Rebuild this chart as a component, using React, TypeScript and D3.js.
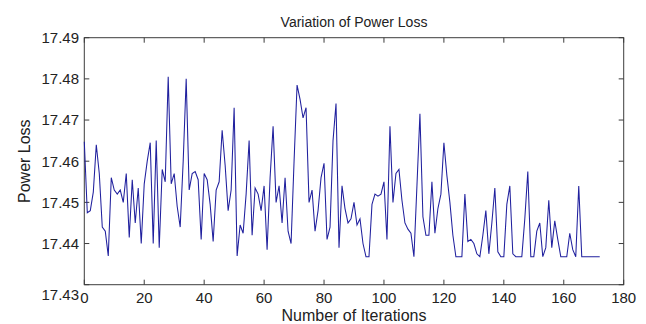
import React, { useEffect, useRef } from "react";
import * as d3 from "d3";

const powerLoss: number[] = [
  17.4647, 17.4475, 17.448, 17.4525, 17.464, 17.457, 17.444, 17.443, 17.437, 17.456,
  17.453, 17.452, 17.453, 17.45, 17.457, 17.4415, 17.4555, 17.445, 17.4535, 17.44,
  17.4545, 17.46, 17.4645, 17.44, 17.465, 17.439, 17.458, 17.455, 17.4805, 17.4545,
  17.457, 17.449, 17.444, 17.46, 17.48, 17.453, 17.457, 17.4575, 17.4555, 17.441,
  17.457, 17.4555, 17.4495, 17.4405, 17.453, 17.455, 17.4675, 17.459, 17.448, 17.453,
  17.473, 17.437, 17.4445, 17.4425, 17.452, 17.465, 17.442, 17.4535, 17.452, 17.448,
  17.454, 17.4385, 17.456, 17.4685, 17.45, 17.454, 17.445, 17.456, 17.443, 17.44,
  17.46, 17.4785, 17.475, 17.4705, 17.473, 17.45, 17.453, 17.443, 17.448, 17.456,
  17.4595, 17.441, 17.444, 17.465, 17.474, 17.439, 17.454, 17.4485, 17.445, 17.446,
  17.45, 17.4445, 17.446, 17.44, 17.4368, 17.4368, 17.4495, 17.452, 17.4515, 17.452,
  17.455, 17.441, 17.4685, 17.45, 17.457, 17.458, 17.4505, 17.445, 17.4435, 17.4425,
  17.4368, 17.454, 17.4715, 17.4465, 17.442, 17.442, 17.455, 17.4425, 17.4485, 17.452,
  17.4645, 17.4565, 17.45, 17.442, 17.4368, 17.4368, 17.4368, 17.452, 17.4405, 17.441,
  17.44, 17.4375, 17.4368, 17.442, 17.448, 17.4375, 17.445, 17.4535, 17.438, 17.4368,
  17.4368, 17.4495, 17.454, 17.4375, 17.4368, 17.4368, 17.4368, 17.446, 17.4575, 17.4368,
  17.4368, 17.443, 17.445, 17.4368, 17.439, 17.4505, 17.439, 17.4455, 17.441, 17.4368,
  17.4368, 17.4368, 17.4425, 17.4385, 17.4368, 17.454, 17.4368, 17.4368, 17.4368, 17.4368,
  17.4368, 17.4368, 17.4368,
];

const xTicks: number[] = [0, 20, 40, 60, 80, 100, 120, 140, 160, 180];
const yTicks: number[] = [17.43, 17.44, 17.45, 17.46, 17.47, 17.48, 17.49];
const titleText = "Variation of Power Loss";
const xLabelText = "Number of Iterations";
const yLabelText = "Power Loss";

const W = 646;
const H = 324;
const L = 84.3;
const R = 623.7;
const T = 37.7;
const B = 284.7;
const FONT = "'Liberation Sans', Arial, sans-serif";
const AXIS = "#3c3c3c";
const TEXT = "#222";

export default function App() {
  const ref = useRef<SVGSVGElement | null>(null);

  useEffect(() => {
    const svg = d3.select(ref.current);
    svg.selectAll("*").remove();

    const x = d3.scaleLinear().domain([0, 180]).range([L, R]);
    const y = d3.scaleLinear().domain([17.43, 17.49]).range([B, T]);

    const tl = 5;
    const g = svg.append("g");

    g.append("rect")
      .attr("x", L).attr("y", T)
      .attr("width", R - L).attr("height", B - T)
      .attr("fill", "#fff").attr("stroke", AXIS).attr("stroke-width", 1);

    xTicks.forEach((t) => {
      const px = x(t);
      g.append("line").attr("x1", px).attr("x2", px).attr("y1", B).attr("y2", B - tl)
        .attr("stroke", AXIS);
      g.append("line").attr("x1", px).attr("x2", px).attr("y1", T).attr("y2", T + tl)
        .attr("stroke", AXIS);
      g.append("text").attr("x", px).attr("y", 302.5)
        .attr("text-anchor", "middle").attr("font-family", FONT).attr("font-size", 15)
        .attr("fill", TEXT).text(String(t));
    });

    yTicks.forEach((t, i) => {
      const py = y(t);
      g.append("line").attr("x1", L).attr("x2", L + tl).attr("y1", py).attr("y2", py)
        .attr("stroke", AXIS);
      g.append("line").attr("x1", R).attr("x2", R - tl).attr("y1", py).attr("y2", py)
        .attr("stroke", AXIS);
      g.append("text").attr("x", 79).attr("y", py + (i === 0 ? 10 : 0))
        .attr("dy", "0.36em")
        .attr("text-anchor", "end").attr("font-family", FONT).attr("font-size", 15)
        .attr("fill", TEXT).text(t.toFixed(2));
    });

    const line = d3.line<number>()
      .x((_, i) => x(i))
      .y((d) => y(d));
    g.append("path").datum(powerLoss)
      .attr("d", line)
      .attr("fill", "none")
      .attr("stroke", "#20209e")
      .attr("stroke-width", 1.05)
      .attr("stroke-linejoin", "miter");

    g.append("text").attr("x", (L + R) / 2).attr("y", 27)
      .attr("text-anchor", "middle").attr("font-family", FONT).attr("font-size", 14)
      .attr("fill", TEXT).text(titleText);
    g.append("text").attr("x", (L + R) / 2).attr("y", 321)
      .attr("text-anchor", "middle").attr("font-family", FONT).attr("font-size", 16)
      .attr("fill", TEXT).text(xLabelText);
    g.append("text")
      .attr("transform", `translate(29.5,${(T + B) / 2}) rotate(-90)`)
      .attr("text-anchor", "middle").attr("font-family", FONT).attr("font-size", 16)
      .attr("fill", TEXT).text(yLabelText);
  }, []);

  return (
    <svg
      ref={ref}
      width={W}
      height={H}
      style={{ position: "absolute", left: 0, top: 0, background: "#fff" }}
    />
  );
}
